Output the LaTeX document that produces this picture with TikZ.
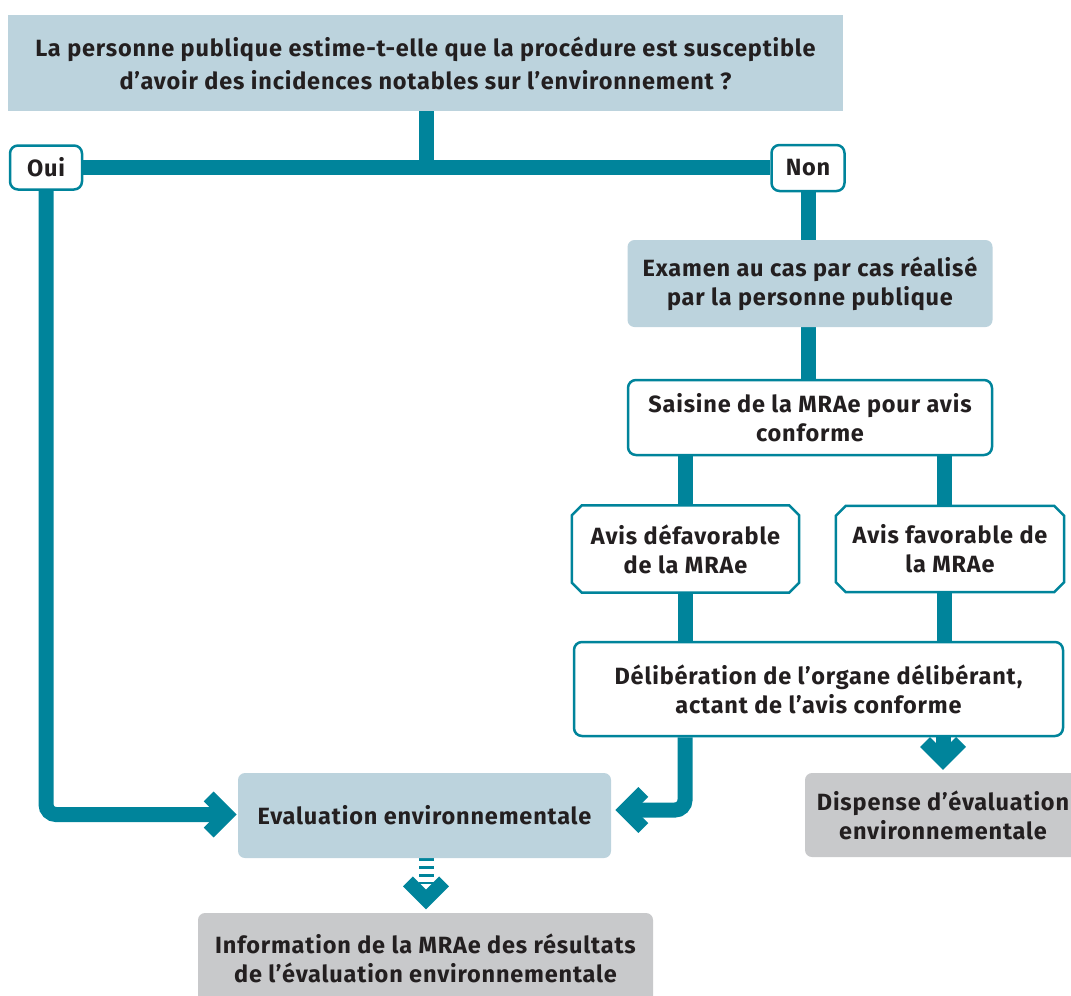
\documentclass[tikz,border=0pt]{standalone}
\usepackage{fontspec}
\setmainfont{Fira Sans}[LetterSpace=3.5]
\usetikzlibrary{calc,backgrounds}
\definecolor{tealc}{HTML}{00849B}
\definecolor{lblue}{HTML}{BCD3DD}
\definecolor{lgrey}{HTML}{C8C9CB}
\definecolor{txt}{HTML}{231F20}
\begin{document}
\begin{tikzpicture}[x=1pt,y=-1pt,
  every node/.style={align=center, inner sep=0pt, text=txt, font=\fontsize{23.5}{29}\selectfont\bfseries},
  bluebox/.style={fill=lblue, rounded corners=7pt},
  greybox/.style={fill=lgrey, rounded corners=7pt},
  whitebox/.style={draw=tealc, line width=2.5pt, fill=white, rounded corners=8pt},
  conn/.style={draw=tealc, line width=15pt},
  chev/.style={draw=tealc, line width=14pt, line join=miter},
  chamline/.style={draw=tealc, line width=2.5pt, fill=white}]
\useasboundingbox (0,0) rectangle (1071,996);
\begin{scope}
\clip (0,0) rectangle (1071,996);
% top question
\node[fill=lblue, minimum width=835pt, minimum height=96pt, font=\fontsize{23.5}{33}\selectfont\bfseries] (q) at (425.5,63)
  {La personne publique estime-t-elle que la procédure est susceptible\\d’avoir des incidences notables sur l’environnement ?};
\node[whitebox, minimum width=72pt, minimum height=44pt] (oui) at (46,167.5) {Oui};
\node[whitebox, minimum width=73pt, minimum height=46pt] (non) at (808,168) {Non};
\node[bluebox, minimum width=365pt, minimum height=87pt] (exa) at (810,283.5) {Examen au cas par cas réalisé\\par la personne publique};
\node[whitebox, minimum width=364pt, minimum height=75pt] (sai) at (810,417.5) {Saisine de la MRAe pour avis\\conforme};
% chamfered boxes
\node[minimum width=227pt, minimum height=87pt] (ad) at (685.5,549) {};
\node[minimum width=228pt, minimum height=86pt] (af) at (950,549) {};
\node[whitebox, minimum width=489pt, minimum height=94pt] (del) at (818.5,689) {Délibération de l’organe délibérant,\\actant de l’avis conforme};
\node[greybox, minimum width=276pt, minimum height=84pt] (dis) at (943,815) {Dispense d’évaluation\\environnementale};
\node[bluebox, minimum width=373pt, minimum height=85pt] (eva) at (424.5,815.5) {Evaluation environnementale};
\node[greybox, minimum width=455pt, minimum height=90pt] (inf) at (425.5,958) {Information de la MRAe des résultats\\de l’évaluation environnementale};
\foreach \n in {ad,af}{
  \draw[chamline] ([xshift=10pt]\n.north west) -- ([xshift=-10pt]\n.north east) -- ([yshift=-10pt]\n.north east)
    -- ([yshift=10pt]\n.south east) -- ([xshift=-10pt]\n.south east) -- ([xshift=10pt]\n.south west)
    -- ([yshift=10pt]\n.south west) -- ([yshift=-10pt]\n.north west) -- cycle;
}
\node at (ad) {Avis défavorable\\de la MRAe};
\node at (af) {Avis favorable de\\la MRAe};
% connector coordinates
\coordinate (j) at (426,168);
\coordinate (lt) at (226.7,814.5);
\coordinate (rt) at (625.3,810);
\coordinate (dt) at (943,760);
\coordinate (it) at (426,899.4);
\begin{scope}[on background layer]
\draw[conn] (q.south -| j) -- (j);
\draw[conn] (oui.east) -- (oui.east -| non.west);
\draw[conn, rounded corners=10pt] (oui.south) |- (lt);
\draw[conn] (non.south -| 808,0) -- (exa.north -| 808,0);
\draw[conn] (exa.south -| 808,0) -- (sai.north -| 808,0);
\draw[conn] (sai.south -| 685,0) -- (ad.north -| 685,0);
\draw[conn] (sai.south -| 944,0) -- (af.north -| 944,0);
\draw[conn] (ad.south -| 685,0) -- (del.north -| 685,0);
\draw[conn] (af.south -| 944,0) -- (del.north -| 944,0);
\draw[conn, rounded corners=10pt] (del.south -| 685,0) |- (rt);
\draw[conn] (del.south -| dt) -- (dt);
\draw[conn, dash pattern=on 3pt off 5pt] (eva.south -| it) -- (426,884);
\end{scope}
\draw[chev] ([shift={(-18,-18)}]lt) -- (lt) -- ([shift={(-18,18)}]lt);
\draw[chev] ([shift={(18,-18)}]rt) -- (rt) -- ([shift={(18,18)}]rt);
\draw[chev] ([shift={(-18,-18)}]dt) -- (dt) -- ([shift={(18,-18)}]dt);
\draw[chev] ([shift={(-18,-18)}]it) -- (it) -- ([shift={(18,-18)}]it);
\end{scope}
\end{tikzpicture}
\end{document}
